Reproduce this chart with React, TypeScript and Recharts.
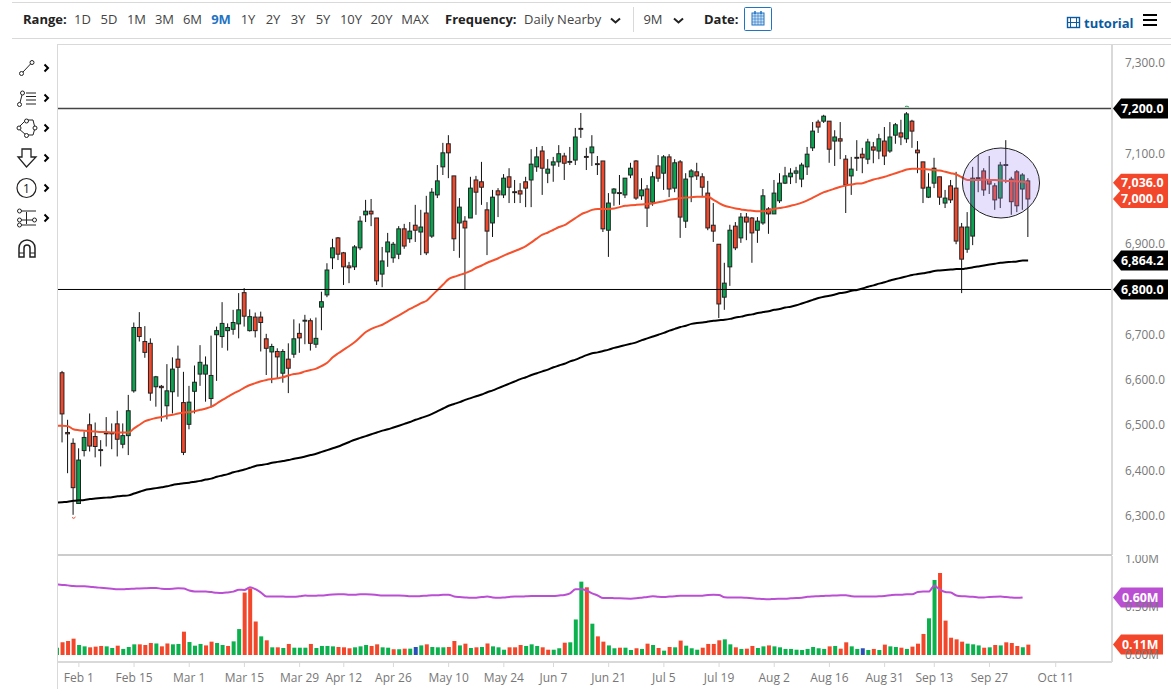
import React from 'react';
import {
  ComposedChart,
  Bar,
  Line,
  Cell,
  XAxis,
  YAxis,
  ReferenceLine,
  ReferenceArea,
} from 'recharts';

const FONT = '"Open Sans", "Noto Sans", sans-serif';

// Colors
const GREEN = '#0aa34f';
const RED = '#f2472a';
const VOL_GREEN = '#0bb14c';
const VOL_BLUE = '#2a4fb8';
const PURPLE = '#bb4fd3';
const GRID = '#d9d9d9';

const RANGES = ['1D', '5D', '1M', '3M', '6M', '9M', '1Y', '2Y', '3Y', '5Y', '10Y', '20Y', 'MAX'];
const RANGE_X = [82.5, 109, 136.5, 164.5, 192.5, 221, 248, 273, 298, 323, 351, 381.5, 415];

// 6,800 / 7,000 / 7,200 sit under the price tags
const PRICE_TICKS = [6300, 6400, 6500, 6600, 6700, 6900, 7100, 7300];
const VOL_TICKS = [0, 0.5, 1];
const DATE_TICKS = [3, 13, 23, 33, 43, 51, 60, 70, 80, 89, 99, 109, 119, 129, 139, 149, 158, 168, 180];
const DATE_LABELS = [
  'Feb 1', 'Feb 15', 'Mar 1', 'Mar 15', 'Mar 29', 'Apr 12', 'Apr 26', 'May 10', 'May 24', 'Jun 7',
  'Jun 21', 'Jul 5', 'Jul 19', 'Aug 2', 'Aug 16', 'Aug 31', 'Sep 13', 'Sep 27', 'Oct 11',
];

const opens = [
  6616, 6484, 6460, 6327, 6444, 6501, 6475, 6446, 6483, 6483,
  6503, 6458, 6477, 6576, 6716, 6685, 6681, 6585, 6586, 6543,
  6574, 6646, 6550, 6502, 6575, 6613, 6613, 6559, 6700, 6696,
  6709, 6712, 6724, 6793, 6709, 6739, 6739, 6691, 6662, 6663,
  6615, 6646, 6657, 6703, 6730, 6731, 6679, 6761, 6788, 6870,
  6914, 6881, 6852, 6850, 6892, 6965, 6973, 6958, 6834, 6883,
  6870, 6878, 6934, 6912, 6942, 6927, 6969, 6918, 7009, 7071,
  7122, 7051, 6947, 6951, 6958, 7042, 7038, 6976, 6947, 7018,
  7009, 7049, 7016, 7018, 7038, 7042, 7071, 7106, 7057, 7075,
  7082, 7095, 7083, 7086, 7156, 7094, 7102, 7078, 7084, 6931,
  7013, 7014, 7009, 7053, 7084, 7007, 7022, 6993, 7073, 7057,
  7093, 7024, 7082, 6951, 7049, 7060, 7049, 7013, 6942, 6900,
  6783, 6850, 6940, 6914, 6960, 6958, 6931, 6947, 6978, 6967,
  6996, 7035, 7049, 7057, 7044, 7071, 7113, 7170, 7172, 7172,
  7128, 7133, 7088, 7051, 7092, 7099, 7088, 7115, 7106, 7128,
  7106, 7141, 7146, 7133, 7172, 7108, 7082, 7004, 7035, 7049,
  6991, 7029, 7024, 6938, 6889, 6918, 7047, 7062, 7042, 7029,
  7002, 7076, 7044, 7060, 7022, 7040,
];
const highs = [
  6620, 6512, 6471, 6449, 6486, 6526, 6506, 6467, 6518, 6504,
  6532, 6504, 6567, 6727, 6750, 6719, 6692, 6609, 6589, 6635,
  6650, 6676, 6618, 6587, 6632, 6677, 6652, 6698, 6718, 6772,
  6725, 6755, 6792, 6803, 6756, 6749, 6751, 6702, 6680, 6670,
  6668, 6681, 6734, 6725, 6744, 6736, 6738, 6795, 6858, 6912,
  6916, 6883, 6861, 6898, 6962, 6998, 7000, 6958, 6894, 6925,
  6905, 6940, 6945, 6949, 6987, 6976, 7007, 7024, 7075, 7124,
  7141, 7051, 7002, 6962, 7049, 7051, 7082, 6993, 7020, 7024,
  7055, 7068, 7042, 7035, 7049, 7110, 7115, 7117, 7088, 7093,
  7119, 7102, 7115, 7157, 7190, 7113, 7141, 7095, 7084, 7013,
  7024, 7053, 7046, 7080, 7086, 7046, 7031, 7060, 7097, 7097,
  7099, 7088, 7086, 7057, 7066, 7080, 7057, 7040, 6991, 6900,
  6859, 6943, 6949, 6969, 6969, 6960, 6960, 7022, 6982, 7042,
  7057, 7071, 7068, 7071, 7080, 7115, 7170, 7175, 7186, 7172,
  7152, 7170, 7097, 7093, 7130, 7113, 7133, 7126, 7144, 7159,
  7170, 7168, 7175, 7192, 7175, 7128, 7082, 7057, 7091, 7049,
  7020, 7042, 7060, 6947, 6971, 7071, 7097, 7068, 7095, 7035,
  7082, 7130, 7049, 7064, 7057, 7046,
];
const lows = [
  6462, 6394, 6302, 6327, 6431, 6442, 6429, 6409, 6453, 6447,
  6431, 6449, 6434, 6572, 6685, 6649, 6554, 6541, 6508, 6513,
  6526, 6563, 6434, 6491, 6526, 6587, 6552, 6539, 6598, 6671,
  6665, 6700, 6692, 6718, 6707, 6694, 6663, 6611, 6593, 6604,
  6594, 6571, 6649, 6660, 6679, 6665, 6671, 6710, 6783, 6845,
  6865, 6810, 6814, 6843, 6887, 6949, 6940, 6810, 6805, 6850,
  6859, 6867, 6890, 6903, 6905, 6876, 6876, 6914, 7002, 7053,
  7046, 6885, 6870, 6799, 6958, 6965, 6987, 6876, 6916, 6960,
  7002, 6991, 6991, 6991, 6982, 6982, 7060, 7009, 7035, 7038,
  7071, 7042, 7075, 7075, 7135, 7064, 7073, 7053, 6927, 6872,
  6985, 6987, 7002, 7046, 6998, 6998, 6938, 6985, 7038, 7020,
  7004, 7015, 6914, 6936, 6993, 7042, 7004, 6931, 6905, 6737,
  6755, 6808, 6887, 6903, 6909, 6859, 6903, 6943, 6923, 6967,
  6991, 7033, 7033, 7035, 7026, 7053, 7106, 7146, 7168, 7080,
  7073, 7088, 6969, 7009, 7062, 7057, 7077, 7079, 7088, 7075,
  7102, 7122, 7119, 7124, 7113, 7057, 6991, 7002, 7024, 6987,
  6980, 6991, 6900, 6792, 6881, 6898, 7015, 7007, 7011, 6976,
  6980, 7035, 6965, 6971, 6976, 6916,
];
const closes = [
  6525, 6481, 6362, 6423, 6473, 6454, 6453, 6444, 6481, 6481,
  6469, 6477, 6532, 6716, 6696, 6661, 6571, 6607, 6583, 6576,
  6624, 6628, 6440, 6551, 6595, 6639, 6633, 6610, 6709, 6725,
  6716, 6727, 6755, 6741, 6740, 6709, 6727, 6670, 6674, 6651,
  6663, 6626, 6691, 6693, 6732, 6681, 6692, 6773, 6843, 6892,
  6878, 6850, 6848, 6894, 6951, 6973, 6967, 6819, 6863, 6905,
  6900, 6934, 6896, 6929, 6931, 6938, 6881, 7015, 7040, 7102,
  7102, 6912, 6982, 6936, 7024, 7015, 7026, 6929, 7004, 7009,
  7046, 7026, 7014, 7011, 7024, 7077, 7093, 7068, 7066, 7082,
  7100, 7079, 7081, 7137, 7154, 7092, 7115, 7076, 6934, 6991,
  7022, 7012, 7046, 7068, 7002, 7020, 6980, 7049, 7046, 7093,
  7022, 7080, 6960, 7044, 7062, 7051, 7026, 6936, 6929, 6768,
  6814, 6931, 6892, 6960, 6949, 6925, 6951, 7007, 6967, 7013,
  7035, 7051, 7057, 7062, 7075, 7099, 7150, 7159, 7183, 7110,
  7137, 7128, 7031, 7066, 7090, 7091, 7126, 7108, 7133, 7095,
  7137, 7164, 7137, 7188, 7150, 7102, 7024, 7026, 7068, 7004,
  7002, 6998, 6907, 6867, 6938, 7046, 7045, 7020, 7033, 6998,
  7075, 7074, 6994, 6985, 7053, 7000,
];

// The moving averages and volume start one session earlier, at the left edge of the plot
const ma50 = [
  6499, 6499, 6498, 6491, 6489, 6488, 6487, 6486, 6485, 6485, 6484,
  6484, 6484, 6484, 6493, 6501, 6509, 6513, 6516, 6518, 6521,
  6523, 6526, 6528, 6529, 6531, 6534, 6537, 6541, 6548, 6556,
  6563, 6570, 6576, 6583, 6589, 6593, 6597, 6600, 6602, 6604,
  6606, 6610, 6613, 6615, 6619, 6622, 6625, 6631, 6638, 6650,
  6659, 6667, 6675, 6684, 6695, 6706, 6713, 6718, 6722, 6729,
  6736, 6743, 6750, 6757, 6763, 6770, 6775, 6787, 6799, 6811,
  6823, 6828, 6832, 6836, 6841, 6848, 6853, 6859, 6864, 6869,
  6875, 6880, 6885, 6890, 6896, 6904, 6913, 6921, 6926, 6932,
  6938, 6942, 6950, 6958, 6966, 6971, 6976, 6978, 6978, 6978,
  6979, 6982, 6985, 6986, 6987, 6988, 6989, 6990, 6993, 6995,
  6998, 7000, 7002, 7003, 7004, 7005, 7005, 7005, 6998, 6991,
  6985, 6982, 6979, 6977, 6975, 6974, 6973, 6973, 6974, 6978,
  6980, 6982, 6985, 6988, 6992, 6997, 7003, 7009, 7015, 7019,
  7023, 7027, 7030, 7032, 7034, 7035, 7039, 7043, 7046, 7049,
  7053, 7057, 7061, 7065, 7067, 7067, 7066, 7065, 7064, 7063,
  7060, 7057, 7054, 7048, 7042, 7042, 7042, 7043, 7042, 7042,
  7041, 7040, 7040, 7039, 7038, 7036,
];
const ma200 = [
  6329, 6330, 6331, 6333, 6334, 6335, 6337, 6338, 6339, 6340, 6341,
  6343, 6344, 6345, 6349, 6353, 6357, 6359, 6361, 6363, 6365,
  6368, 6370, 6372, 6373, 6375, 6377, 6380, 6382, 6386, 6389,
  6392, 6396, 6399, 6402, 6406, 6410, 6412, 6414, 6417, 6419,
  6421, 6423, 6426, 6428, 6431, 6434, 6437, 6441, 6445, 6449,
  6453, 6458, 6463, 6468, 6472, 6476, 6480, 6484, 6488, 6491,
  6495, 6499, 6503, 6507, 6512, 6516, 6520, 6525, 6531, 6537,
  6543, 6547, 6551, 6556, 6560, 6564, 6568, 6573, 6577, 6582,
  6587, 6592, 6597, 6602, 6606, 6611, 6615, 6619, 6623, 6628,
  6632, 6636, 6641, 6645, 6650, 6655, 6659, 6661, 6664, 6667,
  6671, 6674, 6677, 6680, 6683, 6688, 6692, 6696, 6700, 6704,
  6709, 6713, 6717, 6720, 6724, 6726, 6727, 6729, 6731, 6732,
  6733, 6735, 6738, 6740, 6743, 6745, 6748, 6750, 6752, 6755,
  6757, 6760, 6762, 6765, 6769, 6773, 6777, 6781, 6784, 6786,
  6789, 6792, 6794, 6797, 6799, 6802, 6806, 6809, 6813, 6816,
  6820, 6823, 6826, 6829, 6832, 6834, 6836, 6838, 6841, 6842,
  6843, 6844, 6845, 6845, 6847, 6849, 6851, 6853, 6855, 6857,
  6859, 6860, 6861, 6862, 6864, 6864,
];
const volumes = [
  0.076, 0.132, 0.146, 0.17, 0.104, 0.09, 0.08, 0.087, 0.094, 0.09, 0.073,
  0.097, 0.063, 0.083, 0.111, 0.111, 0.104, 0.125, 0.12, 0.09, 0.12,
  0.111, 0.115, 0.243, 0.135, 0.097, 0.115, 0.1, 0.139, 0.125, 0.104,
  0.094, 0.142, 0.27, 0.65, 0.694, 0.35, 0.194, 0.153, 0.08, 0.08,
  0.073, 0.115, 0.076, 0.076, 0.076, 0.115, 0.073, 0.094, 0.094, 0.09,
  0.083, 0.08, 0.07, 0.08, 0.09, 0.104, 0.094, 0.111, 0.08, 0.076,
  0.06, 0.06, 0.066, 0.066, 0.083, 0.1, 0.111, 0.083, 0.08, 0.08,
  0.083, 0.146, 0.1, 0.118, 0.073, 0.08, 0.083, 0.12, 0.09, 0.08,
  0.055, 0.08, 0.08, 0.104, 0.094, 0.111, 0.094, 0.08, 0.055, 0.055,
  0.07, 0.128, 0.132, 0.37, 0.764, 0.705, 0.326, 0.194, 0.139, 0.1,
  0.07, 0.076, 0.076, 0.052, 0.07, 0.063, 0.118, 0.104, 0.073, 0.045,
  0.083, 0.08, 0.15, 0.097, 0.07, 0.055, 0.076, 0.115, 0.115, 0.153,
  0.163, 0.111, 0.08, 0.063, 0.066, 0.094, 0.073, 0.09, 0.1, 0.09,
  0.08, 0.063, 0.063, 0.055, 0.052, 0.063, 0.083, 0.07, 0.063, 0.09,
  0.094, 0.066, 0.132, 0.09, 0.063, 0.07, 0.052, 0.063, 0.052, 0.108,
  0.09, 0.083, 0.076, 0.063, 0.087, 0.118, 0.219, 0.382, 0.781, 0.854,
  0.358, 0.18, 0.163, 0.139, 0.118, 0.111, 0.1, 0.076, 0.08, 0.104,
  0.1, 0.132, 0.125, 0.094, 0.08, 0.108,
];
// g = up day, r = down day, b = unchanged
const volumeDirs = [
  'g',
  'r', 'r', 'r', 'g', 'g', 'r', 'r', 'r', 'g', 'g',
  'r', 'g', 'g', 'g', 'r', 'r', 'r', 'g', 'r', 'r',
  'g', 'g', 'r', 'g', 'g', 'g', 'r', 'r', 'g', 'g',
  'r', 'g', 'g', 'r', 'r', 'r', 'g', 'r', 'g', 'r',
  'g', 'r', 'g', 'g', 'g', 'r', 'g', 'g', 'g', 'g',
  'r', 'r', 'r', 'g', 'g', 'g', 'r', 'r', 'g', 'g',
  'r', 'g', 'r', 'g', 'b', 'g', 'r', 'g', 'g', 'g',
  'r', 'r', 'g', 'r', 'g', 'r', 'g', 'r', 'g', 'g',
  'g', 'r', 'r', 'r', 'g', 'g', 'g', 'r', 'r', 'g',
  'g', 'r', 'g', 'g', 'g', 'r', 'g', 'r', 'r', 'g',
  'g', 'r', 'g', 'g', 'r', 'g', 'r', 'g', 'r', 'g',
  'r', 'g', 'r', 'g', 'g', 'g', 'r', 'r', 'r', 'r',
  'g', 'g', 'r', 'g', 'r', 'r', 'g', 'g', 'r', 'g',
  'g', 'g', 'g', 'g', 'g', 'g', 'g', 'g', 'g', 'r',
  'g', 'r', 'r', 'g', 'g', 'b', 'g', 'r', 'g', 'r',
  'g', 'g', 'r', 'g', 'r', 'r', 'r', 'g', 'g', 'r',
  'r', 'r', 'r', 'r', 'g', 'g', 'g', 'r', 'g', 'r',
  'g', 'r', 'r', 'r', 'g', 'r',
];
const avgVolume = [
  0.736, 0.73, 0.725, 0.718, 0.715, 0.715, 0.712, 0.705, 0.7, 0.695, 0.69,
  0.685, 0.684, 0.688, 0.69, 0.693, 0.695, 0.697, 0.698, 0.69, 0.688,
  0.69, 0.694, 0.692, 0.672, 0.662, 0.66, 0.66, 0.655, 0.648, 0.646,
  0.652, 0.66, 0.68, 0.677, 0.705, 0.685, 0.65, 0.608, 0.61, 0.608,
  0.608, 0.606, 0.606, 0.612, 0.62, 0.616, 0.618, 0.62, 0.625, 0.63,
  0.632, 0.632, 0.628, 0.628, 0.632, 0.632, 0.63, 0.625, 0.62, 0.62,
  0.62, 0.62, 0.618, 0.613, 0.611, 0.614, 0.618, 0.622, 0.623, 0.627,
  0.628, 0.61, 0.604, 0.6, 0.597, 0.597, 0.603, 0.608, 0.6, 0.597,
  0.6, 0.605, 0.608, 0.608, 0.612, 0.615, 0.615, 0.615, 0.615, 0.615,
  0.62, 0.625, 0.642, 0.684, 0.684, 0.672, 0.642, 0.62, 0.594, 0.594,
  0.592, 0.59, 0.588, 0.587, 0.59, 0.597, 0.605, 0.611, 0.606, 0.604,
  0.608, 0.612, 0.616, 0.618, 0.616, 0.618, 0.618, 0.625, 0.628, 0.625,
  0.602, 0.6, 0.6, 0.6, 0.595, 0.59, 0.586, 0.582, 0.58, 0.584,
  0.585, 0.586, 0.59, 0.594, 0.596, 0.606, 0.61, 0.612, 0.615, 0.618,
  0.62, 0.622, 0.622, 0.612, 0.608, 0.608, 0.608, 0.61, 0.611, 0.615,
  0.622, 0.628, 0.628, 0.632, 0.632, 0.655, 0.66, 0.66, 0.722, 0.68,
  0.655, 0.65, 0.62, 0.612, 0.61, 0.606, 0.6, 0.6, 0.605, 0.607,
  0.608, 0.604, 0.598, 0.596, 0.6, null,
];

const volumeColors: Record<string, string> = { g: VOL_GREEN, r: RED, b: VOL_BLUE };

// Rows are numbered by session, so -1 is the session cut by the left edge
const rows = ma50.map((m, k) => {
  const c = k - 1;
  return {
    i: c,
    ma50: m,
    ma200: ma200[k],
    vol: volumes[k],
    dir: volumeDirs[k],
    avg: avgVolume[k],
    range: c >= 0 ? [lows[c], highs[c]] : null,
    open: c >= 0 ? opens[c] : null,
    close: c >= 0 ? closes[c] : null,
    high: c >= 0 ? highs[c] : null,
    low: c >= 0 ? lows[c] : null,
  };
});

const X_DOMAIN = [-0.78, 190.2];

// Wick and body are worked out from the rectangle Recharts gives for [low, high]
function Candle(props: any) {
  const { x, y, width, height, payload } = props;
  if (!payload || !payload.range || !isFinite(y)) return <g />;
  const top = Math.min(y, y + height);
  const k = Math.abs(height) / (payload.high - payload.low);
  const cx = x + width / 2;
  const bodyTop = top + (payload.high - Math.max(payload.open, payload.close)) * k;
  const bodyH = Math.abs(payload.close - payload.open) * k;
  const up = payload.close >= payload.open;
  return (
    <g>
      <line x1={cx} x2={cx} y1={top} y2={top + Math.abs(height)} stroke="#111" strokeWidth={1} />
      <rect x={cx - 1.9} y={bodyTop} width={3.8} height={bodyH} fill={up ? GREEN : RED} stroke="#222" strokeWidth={1} />
    </g>
  );
}

function Tag(props: any) {
  const { viewBox, text, fill, h = 20, right = 55 } = props;
  if (!viewBox) return null;
  const x = viewBox.x + viewBox.width + 1;
  const y = viewBox.y;
  const pts = `${x},${y} ${x + 8},${y - h / 2} ${x + right},${y - h / 2} ${x + right},${y + h / 2} ${x + 8},${y + h / 2}`;
  return (
    <g>
      <polygon points={pts} fill={fill} />
      <text x={x + right - 4.5} y={y + 4.5} textAnchor="end" fill="#fff" fontSize={12.4} fontWeight={700} fontFamily={FONT}>
        {text}
      </text>
    </g>
  );
}

function Lilac(props: any) {
  const { x, y, width, height } = props;
  return (
    <ellipse
      cx={x + width / 2}
      cy={y + height / 2}
      rx={width / 2}
      ry={height / 2}
      fill="#9f86f2"
      fillOpacity={0.26}
      stroke="#222"
      strokeWidth={1}
    />
  );
}

const formatPrice = (v: number) => v.toLocaleString('en-US', { minimumFractionDigits: 1 });
const formatDate = (v: number) => DATE_LABELS[DATE_TICKS.indexOf(v)];

function PriceChart() {
  return (
    <div style={{ position: 'absolute', left: 0, top: 0 }}>
      <ComposedChart width={1171} height={556} data={rows} margin={{ top: 45, right: 0, bottom: 1, left: 58 }}>
        <XAxis type="number" dataKey="i" domain={X_DOMAIN} allowDataOverflow hide />
        <YAxis
          orientation="right"
          width={59}
          domain={[6213.2, 7340.3]}
          ticks={PRICE_TICKS}
          tickFormatter={formatPrice}
          tickLine={false}
          tickMargin={7}
          axisLine={{ stroke: GRID, strokeWidth: 2 }}
          tick={{ fill: '#777', fontSize: 11.8, fontFamily: FONT }}
          interval={0}
          allowDataOverflow
        />
        <Line dataKey="ma200" type="monotone" stroke="#000" strokeWidth={2} dot={false} isAnimationActive={false} />
        <Bar dataKey="range" barSize={5} shape={<Candle />} isAnimationActive={false} />
        <Line dataKey="ma50" type="monotone" stroke="#f4512c" strokeWidth={2} dot={false} isAnimationActive={false} />
        <ReferenceArea x1={163.1} x2={177.07} y1={6958} y2={7112.7} shape={<Lilac />} zIndex={900} />
        <ReferenceLine y={7200} stroke="#444" strokeWidth={1.4} label={<Tag text="7,200.0" fill="#000" />} />
        <ReferenceLine y={6800} stroke="#000" strokeWidth={1} label={<Tag text="6,800.0" fill="#000" />} />
        <ReferenceLine y={6864.2} stroke="none" label={<Tag text="6,864.2" fill="#000" />} />
        <ReferenceLine y={7036} stroke="none" label={<Tag text="7,036.0" fill={RED} h={18} />} />
        <ReferenceLine y={7000} stroke="none" label={<Tag text="7,000.0" fill={RED} h={18} />} />
      </ComposedChart>
    </div>
  );
}

function VolumeChart() {
  return (
    <div style={{ position: 'absolute', left: 0, top: 555 }}>
      <ComposedChart width={1171} height={142} data={rows} margin={{ top: 1, right: 0, bottom: 0, left: 58 }}>
        <XAxis
          type="number"
          dataKey="i"
          domain={X_DOMAIN}
          allowDataOverflow
          ticks={DATE_TICKS}
          interval={0}
          height={35}
          tickFormatter={formatDate}
          tickSize={5}
          tickMargin={6}
          axisLine={{ stroke: GRID, strokeWidth: 2 }}
          tickLine={{ stroke: GRID }}
          tick={{ fill: '#777', fontSize: 12, fontFamily: FONT }}
        />
        <YAxis
          orientation="right"
          width={59}
          domain={[-0.073, 1.031]}
          ticks={VOL_TICKS}
          tickFormatter={(v: number) => `${v.toFixed(2)}M`}
          tickLine={false}
          tickMargin={7}
          axisLine={{ stroke: GRID, strokeWidth: 2 }}
          tick={{ fill: '#777', fontSize: 11.8, fontFamily: FONT }}
          interval={0}
          allowDataOverflow
        />
        <Bar dataKey="vol" barSize={4} isAnimationActive={false}>
          {rows.map((r) => (
            <Cell key={r.i} fill={volumeColors[r.dir]} />
          ))}
        </Bar>
        <Line dataKey="avg" type="monotone" stroke={PURPLE} strokeWidth={2} dot={false} isAnimationActive={false} />
        <ReferenceLine y={0.6} stroke="none" label={<Tag text="0.60M" fill={PURPLE} right={50} />} />
        <ReferenceLine y={0.11} stroke="none" label={<Tag text="0.11M" fill={RED} right={50} />} />
      </ComposedChart>
    </div>
  );
}

function Label({ x, y = 18.5, center, bold, color = '#444', children }: any) {
  return (
    <span
      style={{
        position: 'absolute',
        left: x,
        top: y - 10,
        lineHeight: '20px',
        fontSize: 13,
        fontWeight: bold ? 700 : 400,
        color,
        whiteSpace: 'nowrap',
        transform: center ? 'translateX(-50%)' : undefined,
      }}
    >
      {children}
    </span>
  );
}

function Chevron({ x, y }: { x: number; y: number }) {
  return <path d={`M${x - 1.5} ${y - 3.5}L${x + 2} ${y}L${x - 1.5} ${y + 3.5}`} fill="none" stroke="#000" strokeWidth={2} />;
}

function TopBar() {
  return (
    <>
      <Label x={23} bold color="#222">Range:</Label>
      {RANGES.map((r, k) => (
        <Label key={r} x={RANGE_X[k]} center bold={r === '9M'} color={r === '9M' ? '#1f74c4' : '#444'}>
          {r}
        </Label>
      ))}
      <Label x={445} bold color="#222">Frequency:</Label>
      <Label x={524}>Daily Nearby</Label>
      <Label x={653} center>9M</Label>
      <Label x={704} bold color="#222">Date:</Label>
      <Label x={1084} y={23} bold color="#0a5b9f">tutorial</Label>
    </>
  );
}

// Separators, plot frame, drawing tools and the small icons around the chart
function Chrome() {
  const strokes = { fill: 'none', stroke: '#222', strokeWidth: 1 };
  return (
    <svg width={1171} height={697} style={{ position: 'absolute', left: 0, top: 0, pointerEvents: 'none' }}>
      <line x1={12} x2={1171} y1={2.5} y2={2.5} stroke={GRID} />
      <line x1={12} x2={1171} y1={38.5} y2={38.5} stroke={GRID} />
      <line x1={57.5} x2={1171} y1={44.5} y2={44.5} stroke={GRID} />
      <line x1={57.5} x2={57.5} y1={44} y2={689} stroke={GRID} />
      <line x1={58} x2={1112} y1={555} y2={555} stroke="#ccc" strokeWidth={2} />
      <line x1={633.5} x2={633.5} y1={7} y2={32} stroke={GRID} />

      <path d="M611 18.5L615.5 22.5L620 18.5" {...strokes} strokeWidth={2} />
      <path d="M674 18.5L678.5 22.5L683 18.5" {...strokes} strokeWidth={2} />

      <rect x={744.5} y={7.5} width={27} height={23} rx={1} fill="#fff" stroke="#1f74c4" />
      <rect x={752} y={13} width={12} height={12} fill="#cfe2f5" stroke="#1f74c4" />
      <path d="M752 16H764M755 13V25M758 13V25M761 13V25M752 19H764M752 22H764" stroke="#1f74c4" strokeWidth={0.6} />
      <path d="M755 11V14M761 11V14" stroke="#1f74c4" strokeWidth={1.5} />

      <rect x={1067.5} y={17.5} width={12} height={10} fill="none" stroke="#0a5b9f" strokeWidth={1.4} />
      <path d="M1070.5 17.5V27.5M1076.5 17.5V27.5M1067.5 22.5H1079.5" stroke="#0a5b9f" />
      <path d="M1143 15H1157M1143 20H1157M1143 25H1157" stroke="#000" strokeWidth={2.2} />

      {/* drawing tools */}
      <circle cx={21.5} cy={73.5} r={2} {...strokes} />
      <circle cx={32} cy={62.5} r={2} {...strokes} />
      <line x1={23} x2={30.5} y1={72} y2={64} {...strokes} />
      <circle cx={19.5} cy={104.5} r={2} {...strokes} />
      <circle cx={22.5} cy={93} r={2} {...strokes} />
      <line x1={20} x2={22} y1={102.5} y2={95} {...strokes} />
      <path d="M26 93H36M26 96.5H36M26 100H36M26 104H36" {...strokes} />
      <path d="M26 120L33 120L35 128L33 135L26 135L18 128Z" {...strokes} />
      <circle cx={26.5} cy={121} r={2} fill="#fff" stroke="#222" />
      <circle cx={35} cy={128} r={2} fill="#fff" stroke="#222" />
      <circle cx={26.5} cy={135.5} r={2} fill="#fff" stroke="#222" />
      <circle cx={19} cy={128} r={2} fill="#fff" stroke="#222" />
      <path d="M22 149H31V157H36L26.5 167L18 157H22Z" {...strokes} strokeWidth={1.3} />
      <circle cx={26.5} cy={188} r={9.5} {...strokes} strokeWidth={1.2} />
      <text x={26.5} y={192.5} textAnchor="middle" fontSize={12} fontFamily={FONT} fill="#111">1</text>
      <path d="M21 211H36M20 225H36M26.5 212V224M18 220H33" {...strokes} />
      <circle cx={19.5} cy={211} r={2} fill="#fff" stroke="#222" />
      <circle cx={19.5} cy={220} r={2} fill="#fff" stroke="#222" />
      <circle cx={19.5} cy={225} r={2} fill="#fff" stroke="#222" />
      <circle cx={34.5} cy={220} r={2} fill="#fff" stroke="#222" />
      <path d="M19 257V248A8 8 0 0 1 35 248V257H30V248A3 3 0 0 0 24 248V257Z" {...strokes} strokeWidth={1.5} />
      <path d="M19 253H24M30 253H35" {...strokes} />
      {[68, 98, 128, 158, 188, 218].map((y) => (
        <Chevron key={y} x={46} y={y} />
      ))}

      {/* arrow marks at the highest and lowest sessions */}
      <path d="M905 106.5Q907 105.5 909 107" fill="none" stroke="#19a652" />
      <path d="M72 517.5Q74 519.5 75.5 517" fill="none" stroke={RED} />
    </svg>
  );
}

export default function App() {
  return (
    <div
      style={{
        position: 'absolute',
        left: 0,
        top: 0,
        width: 1171,
        height: 697,
        overflow: 'hidden',
        background: '#fff',
        fontFamily: FONT,
      }}
    >
      <PriceChart />
      <VolumeChart />
      <Chrome />
      <TopBar />
    </div>
  );
}
